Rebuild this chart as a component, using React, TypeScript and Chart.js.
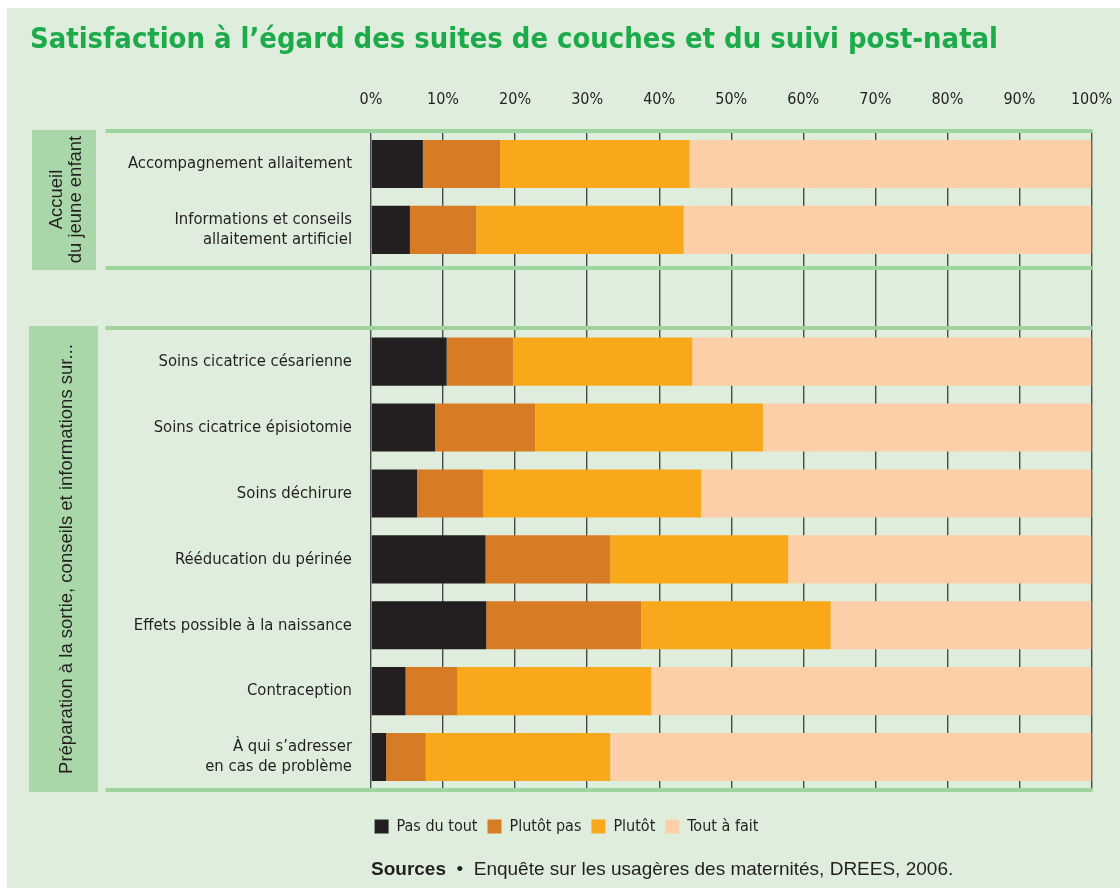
import React, { useEffect, useRef } from "react";
import { Chart, registerables } from "chart.js";

Chart.register(...registerables);

const categories: (string | string[])[] = [
  "Accompagnement allaitement",
  ["Informations et conseils", "allaitement artificiel"],
  "",
  "Soins cicatrice césarienne",
  "Soins cicatrice épisiotomie",
  "Soins déchirure",
  "Rééducation du périnée",
  "Effets possible à la naissance",
  "Contraception",
  ["À qui s’adresser", "en cas de problème"],
];

const pasDuTout = [7.2, 5.4, null, 10.5, 8.9, 6.4, 15.9, 16.0, 4.8, 2.1];
const plutotPas = [10.7, 9.2, null, 9.2, 13.9, 9.2, 17.3, 21.5, 7.2, 5.5];
const plutot = [26.3, 28.8, null, 24.9, 31.6, 30.2, 24.7, 26.3, 26.9, 25.6];
const toutAFait = [55.8, 56.6, null, 55.4, 45.6, 54.2, 42.1, 36.2, 61.1, 66.8];

const seriesLabels = ["Pas du tout", "Plutôt pas", "Plutôt", "Tout à fait"];
const seriesColors = ["#231F20", "#D77B25", "#F9A71B", "#FCCFA8"];

const groupLabels: string[][] = [
  ["Accueil", "du jeune enfant"],
  ["Préparation à la sortie, conseils et informations sur..."],
];

const titleText = "Satisfaction à l’égard des suites de couches et du suivi post-natal";
const sourceBold = "Sources";
const sourceText = "  •  Enquête sur les usagères des maternités, DREES, 2006.";

const NARROW = '"Liberation Sans Narrow", "Arial Narrow", "DejaVu Sans Condensed", sans-serif';
const SANS = '"Liberation Sans", Arial, sans-serif';
const BG = "#DFEEDC";
const LINE_GREEN = "#A0D49F";
const BOX_GREEN = "#AAD7A9";
const TEXT = "#231F20";

const decorPlugin = {
  id: "decor",
  beforeDatasetsDraw(chart: any) {
    const { ctx, chartArea, scales } = chart;
    const y = scales.y;
    const sep1 = y.getPixelForValue(1.58);
    const sep2 = y.getPixelForValue(2.49);
    ctx.save();
    ctx.fillStyle = BOX_GREEN;
    ctx.fillRect(25, chartArea.top - 1, 64, sep1 + 2 - (chartArea.top - 1));
    ctx.fillRect(22, sep2 - 2, 69, chartArea.bottom + 2 - (sep2 - 2));
    ctx.restore();
  },
  afterDatasetsDraw(chart: any) {
    const { ctx, chartArea, scales } = chart;
    const y = scales.y;
    const sep1 = y.getPixelForValue(1.58);
    const sep2 = y.getPixelForValue(2.49);
    ctx.save();
    ctx.strokeStyle = LINE_GREEN;
    ctx.lineWidth = 4;
    const x0 = 98.5;
    const x1 = chartArea.right + 1;
    [chartArea.top, sep1, sep2, chartArea.bottom].forEach((py: number) => {
      ctx.beginPath();
      ctx.moveTo(x0, py);
      ctx.lineTo(x1, py);
      ctx.stroke();
    });
    ctx.restore();
  },
  afterDraw(chart: any) {
    const { ctx, chartArea, scales } = chart;
    const y = scales.y;
    const sep1 = y.getPixelForValue(1.58);
    const sep2 = y.getPixelForValue(2.49);
    ctx.save();
    // title
    ctx.font = 'bold 28.5px "DejaVu Sans Condensed", "DejaVu Sans", sans-serif';
    ctx.fillStyle = "#1DAA4A";
    ctx.textBaseline = "middle";
    ctx.textAlign = "left";
    const tw = ctx.measureText(titleText).width;
    const target = 968;
    ctx.save();
    ctx.translate(23, 33);
    ctx.scale(target / tw, 1);
    ctx.fillText(titleText, 0, 0);
    ctx.restore();

    // group labels (rotated)
    ctx.fillStyle = TEXT;
    ctx.font = `18.5px ${SANS}`;
    ctx.textAlign = "center";
    ctx.textBaseline = "middle";
    const b1c = (chartArea.top + sep1) / 2;
    ctx.save();
    ctx.translate(59, b1c);
    ctx.rotate(-Math.PI / 2);
    ctx.fillText(groupLabels[0][0], 0, -9.5);
    ctx.fillText(groupLabels[0][1], 0, 9.5);
    ctx.restore();
    const b2c = (sep2 + chartArea.bottom) / 2;
    ctx.save();
    ctx.translate(59.5, b2c);
    ctx.rotate(-Math.PI / 2);
    ctx.fillText(groupLabels[1][0], 0, 0);
    ctx.restore();

    // sources
    ctx.textAlign = "left";
    ctx.font = `bold 19px ${SANS}`;
    const sx = chartArea.left;
    const sy = 862;
    ctx.fillText(sourceBold, sx, sy);
    const bw = ctx.measureText(sourceBold).width;
    ctx.font = `19px ${SANS}`;
    ctx.fillText(sourceText, sx + bw, sy);
    ctx.restore();
  },
};

export default function App() {
  const ref = useRef<HTMLCanvasElement>(null);
  useEffect(() => {
    const canvas = ref.current!;
    const seriesData = [pasDuTout, plutotPas, plutot, toutAFait];
    const chart = new Chart(canvas, {
      type: "bar",
      data: {
        labels: categories as any,
        datasets: seriesData.map((d, i) => ({
          label: seriesLabels[i],
          data: d as any,
          backgroundColor: seriesColors[i],
          borderWidth: 0,
          categoryPercentage: 1,
          barPercentage: 0.73,
        })),
      },
      options: {
        indexAxis: "y",
        responsive: false,
        animation: false,
        layout: { padding: { top: 0, left: 34.5, right: 28.5, bottom: 43.5 } },
        plugins: {
          legend: {
            position: "bottom",
            labels: {
              boxWidth: 14,
              boxHeight: 14,
              padding: 10,
              color: TEXT,
              font: { family: NARROW, size: 16 },
            },
          },
          tooltip: { enabled: false },
          title: { display: false },
        },
        scales: {
          x: {
            type: "linear",
            position: "top",
            stacked: true,
            min: 0,
            max: 100,
            ticks: {
              stepSize: 10,
              padding: 22,
              color: TEXT,
              font: { family: NARROW, size: 16 },
              callback: (v: any) => `${v}%`,
            },
            grid: { color: "#4A4A4A", lineWidth: 1.4, drawTicks: false },
            border: { display: false },
            afterFit: (s: any) => {
              s.height = 123;
              s.paddingLeft = 0;
              s.paddingRight = 0;
            },
          },
          x2: {
            type: "linear",
            position: "bottom",
            display: true,
            grid: { display: false, drawTicks: false },
            ticks: { display: false },
            border: { display: false },
            afterFit: (s: any) => {
              s.height = 18.5;
              s.paddingLeft = 0;
              s.paddingRight = 0;
            },
          },
          y: {
            stacked: true,
            grid: { display: false, drawTicks: false },
            border: { display: false },
            ticks: {
              padding: 19,
              autoSkip: false,
              color: TEXT,
              font: { family: NARROW, size: 16.5, lineHeight: 1.2 },
            },
            afterFit: (s: any) => {
              s.width = 329.5;
            },
          },
        },
      } as any,
      plugins: [decorPlugin],
    });
    return () => chart.destroy();
  }, []);

  return (
    <div
      style={{
        position: "absolute",
        left: 7,
        top: 8,
        width: 1113,
        height: 880,
        background: BG,
      }}
    >
      <canvas ref={ref} width={1113} height={880} style={{ display: "block" }} />
    </div>
  );
}
